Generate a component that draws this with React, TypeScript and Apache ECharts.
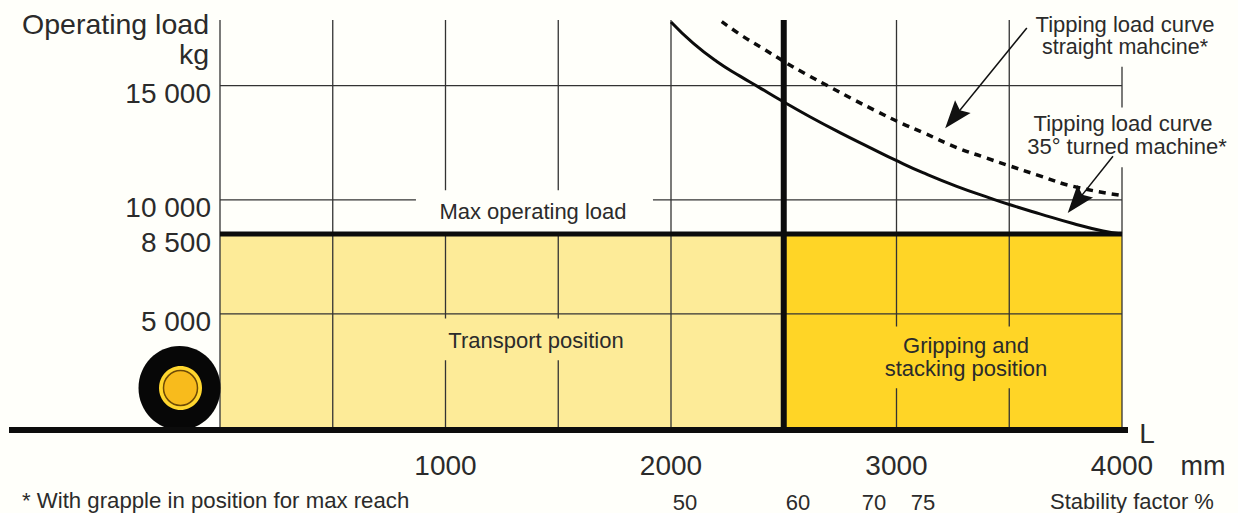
import React, { useEffect, useRef } from "react";
import * as echarts from "echarts";

const X_MAX = 4000;
const Y_MAX = 17880;
const FONT = '"Liberation Sans", Arial, sans-serif';
const INK = "#2b2b2b";

const yTicks = [5000, 8500, 10000, 15000];
const xTicks = [1000, 2000, 3000, 4000];
const stabilityX = [2062, 2563, 2900, 3117];
const stabilityLabels = ["50", "60", "70", "75"];

const transportPosition = [0, 2500];
const grippingPosition = [2500, 4000];
const maxOperatingLoad = 8500;

const turnedCurve = [
  [2000, 17790], [2098, 16865], [2203, 16062], [2306, 15420], [2387, 14950], [2491, 14340],
  [2616, 13640], [2749, 12945], [2882, 12290], [3008, 11680], [3117, 11190], [3267, 10590],
  [3415, 10075], [3511, 9760], [3636, 9385], [3783, 8960], [3916, 8630], [4000, 8500],
];
const straightCurve = [
  [2225, 17806], [2321, 17152], [2417, 16572], [2513, 15990], [2609, 15450], [2713, 14902],
  [2816, 14361], [2912, 13881], [3008, 13419], [3117, 12952], [3267, 12290], [3384, 11880],
  [3489, 11530], [3636, 11050], [3783, 10590], [4000, 10190],
];

// Grid segments with the breaks left around the captions
const gridSegments = [
  [[0, 0], [0, Y_MAX]],
  [[500, 0], [500, Y_MAX]],
  [[1000, 0], [1000, 2966]], [[1000, 4797], [1000, 8500]], [[1000, 10423], [1000, Y_MAX]],
  [[1500, 0], [1500, 2966]], [[1500, 4797], [1500, 8500]], [[1500, 10423], [1500, Y_MAX]],
  [[2000, 0], [2000, Y_MAX]],
  [[3000, 0], [3000, 1744]], [[3000, 4448], [3000, Y_MAX]],
  [[3500, 0], [3500, 1744]], [[3500, 4448], [3500, Y_MAX]],
  [[4000, 0], [4000, 11426]], [[4000, 14043], [4000, 15831]],
  [[0, 5000], [4000, 5000]],
  [[0, 10000], [869, 10000]], [[1920, 10000], [4000, 10000]],
  [[0, 15000], [4000, 15000]],
];
const stackingDivider = [[2500, 0], [2500, Y_MAX]];
const capacityLine = [[0, maxOperatingLoad], [4000, maxOperatingLoad]];
const arrowStraight = [[3578, 17532], [3255, 13610]];
const arrowTurned = [[3960, 11906], [3798, 9900]];

const lineSeries = (data: number[][], color: string, width: number, z = 3) => ({
  type: "line",
  data,
  symbol: "none",
  silent: true,
  z,
  lineStyle: { color, width },
});

const label = (text: string, x: number, y: number, size: number, align = "center", fill = INK) => ({
  type: "text",
  x,
  y,
  z: 20,
  silent: true,
  style: { text, fontFamily: FONT, fontSize: size, fill, align, verticalAlign: "middle" },
});

const ellipse = (cx: number, cy: number, rx: number, ry: number, style: object, z: number) => ({
  type: "ellipse",
  silent: true,
  z,
  shape: { cx, cy, rx, ry },
  style,
});

export default function App() {
  const ref = useRef<HTMLDivElement>(null);
  useEffect(() => {
    const chart = echarts.init(ref.current!, null, { renderer: "svg" });
    const arrowHead = "path://M10,0 L20,30 L10,25 L0,30 Z";
    chart.setOption({
      animation: false,
      backgroundColor: "#fffffa",
      grid: { left: 220, right: 116, top: 20, bottom: 83 },
      xAxis: [
        {
          type: "value",
          min: 0,
          max: X_MAX,
          position: "bottom",
          axisLine: { show: false },
          axisTick: { show: false },
          splitLine: { show: false },
          axisLabel: {
            customValues: xTicks,
            formatter: (v: number) => String(v),
            color: INK,
            fontFamily: FONT,
            fontSize: 28,
            margin: 23,
          },
        },
        {
          type: "value",
          min: 0,
          max: X_MAX,
          position: "bottom",
          offset: 63,
          axisLine: { show: false },
          axisTick: { show: false },
          splitLine: { show: false },
          axisLabel: {
            customValues: stabilityX,
            formatter: (v: number) => stabilityLabels[stabilityX.indexOf(v)],
            color: INK,
            fontFamily: FONT,
            fontSize: 22,
            margin: 0,
          },
        },
      ],
      yAxis: {
        type: "value",
        min: 0,
        max: Y_MAX,
        axisLine: { show: false },
        axisTick: { show: false },
        splitLine: { show: false },
        axisLabel: {
          customValues: yTicks,
          formatter: (v: number) => String(v).replace(/(\d)(\d{3})$/, "$1 $2"),
          color: INK,
          fontFamily: FONT,
          fontSize: 28,
          margin: 9,
          verticalAlign: "top",
          lineHeight: 16,
        },
      },
      series: [
        {
          type: "line",
          data: [],
          silent: true,
          z: 1,
          markArea: {
            silent: true,
            data: [
              [
                { coord: [transportPosition[0], 0], itemStyle: { color: "#fdeb98" } },
                { coord: [transportPosition[1], maxOperatingLoad] },
              ],
              [
                { coord: [grippingPosition[0], 0], itemStyle: { color: "#ffd526" } },
                { coord: [grippingPosition[1], maxOperatingLoad] },
              ],
            ],
          },
        },
        ...gridSegments.map((s) => lineSeries(s, "#333333", 1.3, 2)),
        lineSeries(capacityLine, "#0c0c0c", 5),
        lineSeries(stackingDivider, "#0c0c0c", 6),
        { ...lineSeries(turnedCurve, "#0c0c0c", 3, 4), smooth: 0.5 },
        {
          ...lineSeries(straightCurve, "#0c0c0c", 3, 4),
          smooth: 0.5,
          lineStyle: { color: "#0c0c0c", width: 3.5, type: [7, 6] },
        },
        {
          type: "line",
          data: [],
          silent: true,
          z: 5,
          markLine: {
            silent: true,
            symbol: ["none", arrowHead],
            symbolSize: [20, 28],
            label: { show: false },
            lineStyle: { color: "#111", width: 1.5, type: "solid" },
            data: [arrowStraight, arrowTurned].map(([a, b]) => [{ coord: a }, { coord: b }]),
          },
        },
      ],
      graphic: [
        ellipse(179.5, 388, 41, 42, { fill: "#070707" }, 10),
        ellipse(180.5, 388, 21.5, 22, { fill: "#ffd62e" }, 11),
        ellipse(180.5, 388, 17, 17.5, { fill: "#f8bb1c", stroke: "#6e4a06", lineWidth: 1.5 }, 12),
        {
          type: "line",
          silent: true,
          z: 13,
          shape: { x1: 9, y1: 430, x2: 1128, y2: 430 },
          style: { stroke: "#0c0c0c", lineWidth: 6 },
        },
        label("Operating load", 209, 24, 28.5, "right"),
        label("kg", 209, 54, 28.5, "right"),
        label("Max operating load", 533, 211, 22),
        label("Transport position", 536, 340, 22),
        label("Gripping and", 966, 345, 22),
        label("stacking position", 966, 368, 22),
        label("Tipping load curve", 1125, 24, 22),
        label("straight mahcine*", 1125, 47, 21.5),
        label("Tipping load curve", 1123, 123, 22),
        label("35° turned machine*", 1127, 146, 22),
        label("L", 1147, 433, 28),
        label("mm", 1203, 466, 27),
        label("* With grapple in position for max reach", 22, 500, 22.2, "left"),
        label("Stability factor %", 1132, 501, 22),
      ],
    });
    return () => chart.dispose();
  }, []);
  return (
    <div
      ref={ref}
      style={{ position: "absolute", left: 0, top: 0, width: 1238, height: 513 }}
    />
  );
}
